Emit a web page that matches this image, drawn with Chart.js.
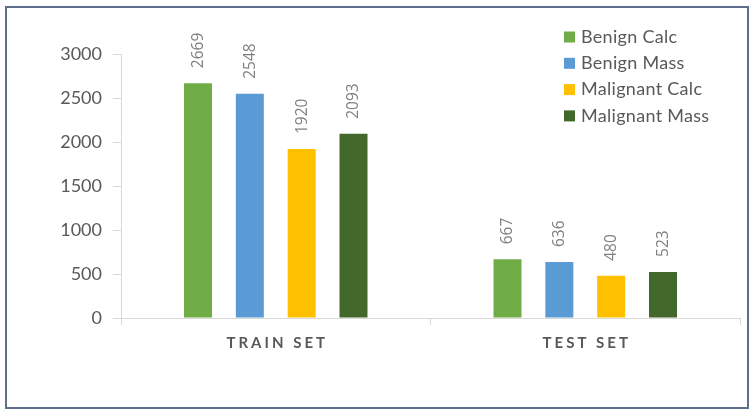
<!DOCTYPE html>
<html>
<head>
<meta charset="utf-8">
<script src="https://cdn.jsdelivr.net/npm/chart.js@4.4.1/dist/chart.umd.min.js"></script>
<style>
  html, body { margin: 0; padding: 0; background: #fff; }
  #wrap { position: relative; width: 754px; height: 414px; }
  #frame { position: absolute; left: 5px; top: 6px; width: 740px; height: 399px; border: 2px solid #5f6e8c; pointer-events: none; }
  canvas { display: block; }
</style>
</head>
<body>
<div id="wrap">
  <canvas id="chart" width="754" height="414"></canvas>
  <div id="frame"></div>
</div>
<script>
const categories = ["TRAIN SET", "TEST SET"];
const seriesNames = ["Benign Calc", "Benign Mass", "Malignant Calc", "Malignant Mass"];
const benignCalc = [2669, 667];
const benignMass = [2548, 636];
const malignantCalc = [1920, 480];
const malignantMass = [2093, 523];
const yTicks = [0, 500, 1000, 1500, 2000, 2500, 3000];

const colors = ["#70ad47", "#5b9bd5", "#ffc000", "#43682b"];
const textGray = "#595959";
const axisGray = "#d9d9d9";

// rotated value labels above each bar
const valueLabels = {
  id: "valueLabels",
  afterDatasetsDraw(chart) {
    const ctx = chart.ctx;
    ctx.save();
    ctx.font = "15.5px 'Open Sans'";
    ctx.fillStyle = "#808080";
    ctx.textAlign = "left";
    ctx.textBaseline = "middle";
    chart.data.datasets.forEach((ds, i) => {
      chart.getDatasetMeta(i).data.forEach((bar, j) => {
        ctx.save();
        ctx.translate(bar.x + 0.5, bar.y - 15);
        ctx.rotate(-Math.PI / 2);
        ctx.fillText(String(ds.data[j]), 0, 0);
        ctx.restore();
      });
    });
    ctx.restore();
  }
};

// legend inside the plot, top right, and spaced category labels
const extras = {
  id: "extras",
  afterDraw(chart) {
    const ctx = chart.ctx;
    ctx.save();
    ctx.font = "18px Lato";
    ctx.letterSpacing = "0.3px";
    ctx.textBaseline = "middle";
    ctx.textAlign = "left";
    chart.data.datasets.forEach((ds, i) => {
      const y = 37 + i * 26.3;
      ctx.fillStyle = ds.backgroundColor;
      ctx.fillRect(564, y - 5.5, 11, 11);
      ctx.fillStyle = textGray;
      ctx.fillText(ds.label, 581, y);
    });

    const xs = chart.scales.x;
    ctx.font = "bold 15px Lato";
    ctx.letterSpacing = "3px";
    ctx.textAlign = "center";
    ctx.fillStyle = textGray;
    chart.data.labels.forEach((lab, i) => {
      ctx.fillText(lab, xs.getPixelForValue(i) + 1.5, 343);
    });
    ctx.restore();
  }
};

new Chart(document.getElementById("chart"), {
  type: "bar",
  data: {
    labels: categories,
    datasets: [benignCalc, benignMass, malignantCalc, malignantMass].map((d, i) => ({
      label: seriesNames[i],
      data: d,
      backgroundColor: colors[i],
      categoryPercentage: 0.67,
      barPercentage: 0.54
    }))
  },
  options: {
    responsive: false,
    animation: false,
    layout: { padding: { top: 54, right: 14, bottom: 0, left: 0 } },
    plugins: { legend: { display: false }, tooltip: { enabled: false } },
    scales: {
      x: {
        offset: true,
        grid: { offset: true, drawOnChartArea: false, drawTicks: true, tickLength: 7, color: axisGray },
        border: { color: axisGray },
        ticks: { display: false },
        afterFit(scale) { scale.height = 96; }
      },
      y: {
        min: 0,
        max: 3000,
        afterBuildTicks(scale) { scale.ticks = yTicks.map((v) => ({ value: v })); },
        grid: { drawOnChartArea: false, drawTicks: true, tickLength: 8, color: axisGray },
        border: { color: axisGray },
        ticks: { color: textGray, font: { family: "Lato", size: 18 }, padding: 11, callback: (v) => String(v) },
        afterFit(scale) { scale.width = 121; }
      }
    }
  },
  plugins: [valueLabels, extras]
});
</script>
</body>
</html>
